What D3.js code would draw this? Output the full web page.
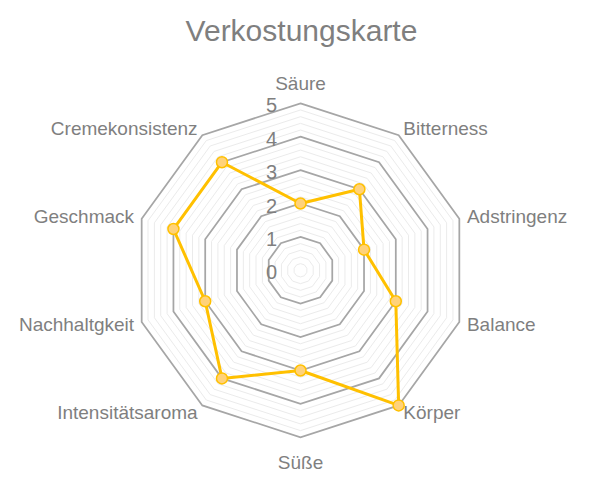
<!DOCTYPE html>
<html>
<head>
<meta charset="utf-8">
<script src="https://cdn.jsdelivr.net/npm/d3@7"></script>
<style>
  body { margin: 0; background: #fff; }
  text { font-family: "Liberation Sans", Arial, sans-serif; }
</style>
</head>
<body>
<div id="chart"></div>
<script>
const title = "Verkostungskarte";
const categories = ["Säure", "Bitterness", "Adstringenz", "Balance", "Körper",
  "Süße", "Intensitätsaroma", "Nachhaltgkeit", "Geschmack", "Cremekonsistenz"];
const values = [2, 3, 2, 3, 5, 3, 4, 3, 4, 4];
const ticks = [0, 1, 2, 3, 4, 5];
const minorStep = 0.2;

const width = 597, height = 482;
const cx = 300.5, cy = 270.3, radius = 167;
const gray = "#7f7f7f";
const gold = "#ffc000";

const svg = d3.select("#chart")
  .append("svg")
  .attr("width", width)
  .attr("height", height);

const r = d3.scaleLinear().domain([0, 5]).range([0, radius]);
const angle = d3.scaleLinear().domain([0, categories.length]).range([0, 2 * Math.PI]);

// point on axis i at value v
const pt = (i, v) => [cx + Math.sin(angle(i)) * r(v), cy - Math.cos(angle(i)) * r(v)];

const ring = (v) => d3.line()(categories.map((c, i) => pt(i, v))) + "Z";

const g = svg.append("g");

// minor rings
const minor = d3.range(minorStep, 5, minorStep).filter((v) => Math.abs(v - Math.round(v)) > 1e-6);
g.selectAll(".minor")
  .data(minor)
  .join("path")
  .attr("d", (d) => ring(d))
  .attr("fill", "none")
  .attr("stroke", "#ebebeb")
  .attr("stroke-width", 1);

// major rings
g.selectAll(".major")
  .data(ticks.filter((t) => t > 0))
  .join("path")
  .attr("d", (d) => ring(d))
  .attr("fill", "none")
  .attr("stroke", "#a6a6a6")
  .attr("stroke-width", 1.75);

// tick labels
g.selectAll(".tick")
  .data(ticks)
  .join("text")
  .attr("x", cx - 23.5)
  .attr("y", (d) => cy - r(d) + 2)
  .attr("dy", "0.35em")
  .attr("text-anchor", "end")
  .attr("font-size", 20)
  .attr("fill", gray)
  .text((d) => d);

// category labels
g.selectAll(".cat")
  .data(categories)
  .join("text")
  .each(function (d, i) {
    const s = Math.sin(angle(i)), c = Math.cos(angle(i));
    let [x, y] = pt(i, 5);
    x += s * 8;
    y -= c * 8;
    let anchor = "middle";
    if (s > 0.01) anchor = "start";
    else if (s < -0.01) anchor = "end";
    if (anchor === "middle") y += c > 0 ? -12 : 17;
    d3.select(this)
      .attr("x", x)
      .attr("y", y)
      .attr("dy", "0.35em")
      .attr("text-anchor", anchor);
  })
  .attr("font-size", 19)
  .attr("fill", gray)
  .text((d) => d);

// data line
const pts = values.map((v, i) => pt(i, v));
g.append("path")
  .attr("d", d3.line()(pts) + "Z")
  .attr("fill", "none")
  .attr("stroke", gold)
  .attr("stroke-width", 3)
  .attr("stroke-linejoin", "round");

g.selectAll(".dot")
  .data(pts)
  .join("circle")
  .attr("cx", (d) => d[0])
  .attr("cy", (d) => d[1])
  .attr("r", 5.5)
  .attr("fill", "#ffd27a")
  .attr("stroke", gold)
  .attr("stroke-width", 1.5);

// title
svg.append("text")
  .attr("x", 301.5)
  .attr("y", 41)
  .attr("text-anchor", "middle")
  .attr("font-size", 30)
  .attr("fill", gray)
  .text(title);
</script>
</body>
</html>
